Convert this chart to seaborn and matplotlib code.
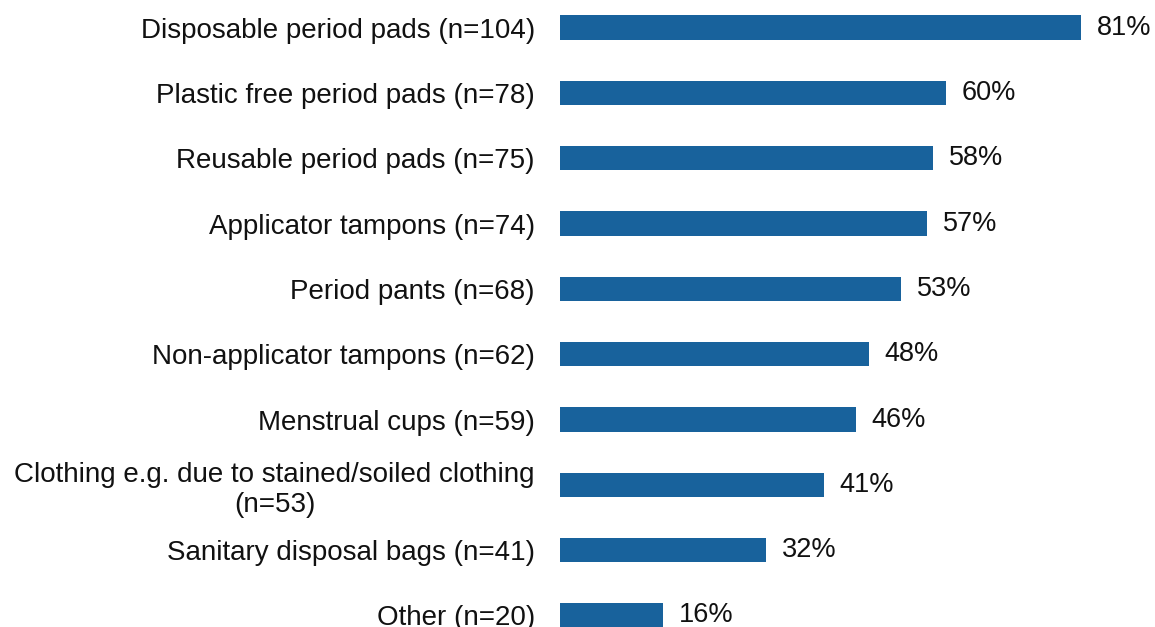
import matplotlib
matplotlib.use("Agg")
import matplotlib.pyplot as plt
import seaborn as sns
import pandas as pd

categories = [
    "Disposable period pads (n=104)",
    "Plastic free period pads (n=78)",
    "Reusable period pads (n=75)",
    "Applicator tampons (n=74)",
    "Period pants (n=68)",
    "Non-applicator tampons (n=62)",
    "Menstrual cups (n=59)",
    "Clothing e.g. due to stained/soiled clothing\n(n=53)",
    "Sanitary disposal bags (n=41)",
    "Other (n=20)",
]
percentages = [81, 60, 58, 57, 53, 48, 46, 41, 32, 16]

df = pd.DataFrame({"item": categories, "pct": percentages})

sns.set_theme(style="white")
plt.rcParams["font.family"] = ["Liberation Sans", "DejaVu Sans"]

W, H = 1155, 627
fig = plt.figure(figsize=(W / 100, H / 100), dpi=100)
x0 = 560 / W
ax = fig.add_axes([x0, 0, 1 - x0, 1])

sns.barplot(data=df, x="pct", y="item", orient="h", color="#18629c",
            saturation=1, width=0.37, linewidth=0, ax=ax)

ax.set_xlim(0, (W - 560) / 6.43)
ax.set_ylim(9 + (627 - 615.5) / 65.3, -27.5 / 65.3)

for i, v in enumerate(percentages):
    ax.text(v + 16 / 6.43, i, f"{v}%", va="center", ha="left",
            fontsize=19.5, color="#111111")

ax.set_xlabel("")
ax.set_ylabel("")
ax.set_xticks([])
ax.tick_params(axis="y", length=0, pad=18, labelsize=20, colors="#111111")
for lbl in ax.get_yticklabels():
    lbl.set_multialignment("center")
for s in ax.spines.values():
    s.set_visible(False)

fig.savefig("out.png", dpi=100, facecolor="white")
